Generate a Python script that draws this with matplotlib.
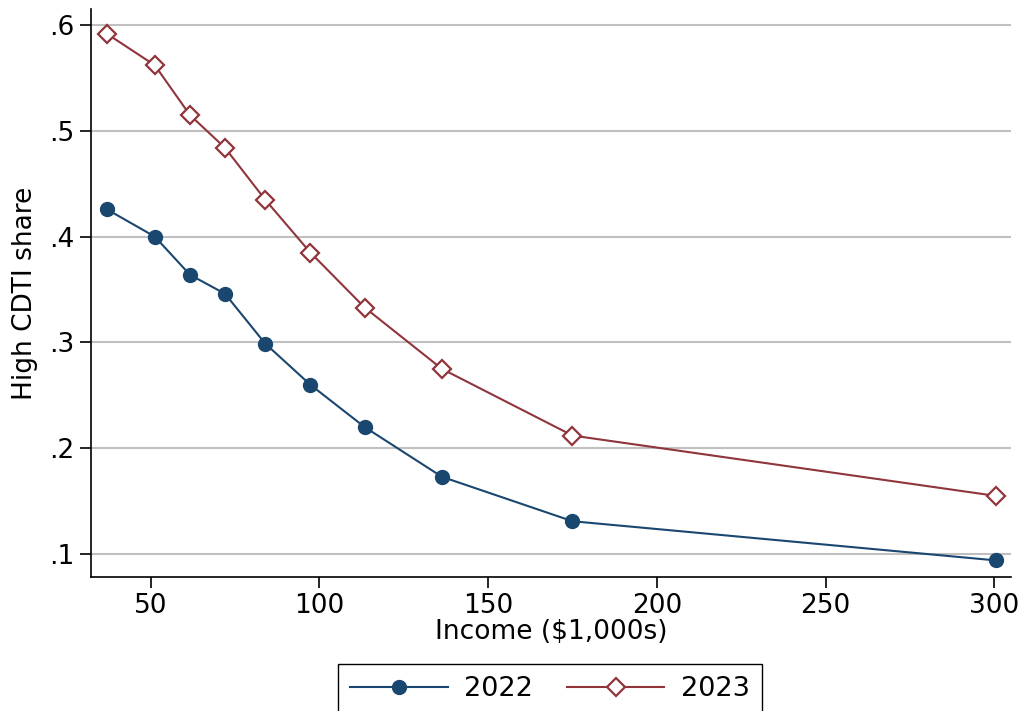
import matplotlib.pyplot as plt
from matplotlib.ticker import FuncFormatter

# Data
income = [36.9, 51.2, 61.6, 72.0, 83.9, 97.3, 113.4, 136.3, 175.0, 300.4]
share_2022 = [0.426, 0.400, 0.364, 0.346, 0.299, 0.260, 0.220, 0.173, 0.131, 0.094]
share_2023 = [0.592, 0.562, 0.515, 0.484, 0.435, 0.385, 0.333, 0.275, 0.212, 0.155]
x_ticks = [50, 100, 150, 200, 250, 300]
y_ticks = [0.1, 0.2, 0.3, 0.4, 0.5, 0.6]

navy = '#1a476f'
maroon = '#90353b'

fig = plt.figure(figsize=(10.22, 7.11), dpi=100)
ax = fig.add_axes([0.0888, 0.1885, 0.9005, 0.7985])

ax.plot(income, share_2022, color=navy, lw=1.5, marker='o', ms=10,
        markerfacecolor=navy, markeredgecolor=navy, label='2022', zorder=3)
ax.plot(income, share_2023, color=maroon, lw=1.5, marker='D', ms=9,
        markerfacecolor='white', markeredgecolor=maroon, markeredgewidth=1.6,
        label='2023', zorder=3)

ax.set_xlim(32.2, 305.0)
ax.set_ylim(0.0783, 0.615)
ax.set_xticks(x_ticks)
ax.set_yticks(y_ticks)
ax.yaxis.set_major_formatter(FuncFormatter(lambda v, p: ('%.1f' % v).lstrip('0')))

ax.grid(axis='y', color='#c0c0c0', lw=1.5)
ax.set_axisbelow(True)
for s in ['top', 'right']:
    ax.spines[s].set_visible(False)
ax.spines['left'].set_linewidth(1.2)
ax.spines['bottom'].set_linewidth(1.2)
ax.tick_params(labelsize=19, length=8, width=1.2, colors='black')

ax.set_xlabel('Income ($1,000s)', fontsize=19, labelpad=0)
ax.set_ylabel('High CDTI share', fontsize=19, labelpad=8)

leg = fig.legend(loc='upper center', bbox_to_anchor=(550 / 1022, 1 - 664 / 711), ncol=2,
                 fontsize=19.5, frameon=True, fancybox=False, edgecolor='black',
                 framealpha=1, handlelength=3.6, handletextpad=0.6, columnspacing=1.25,
                 borderpad=0.45, borderaxespad=0)
leg.get_frame().set_linewidth(1.0)

fig.savefig('out.png', dpi=100)
